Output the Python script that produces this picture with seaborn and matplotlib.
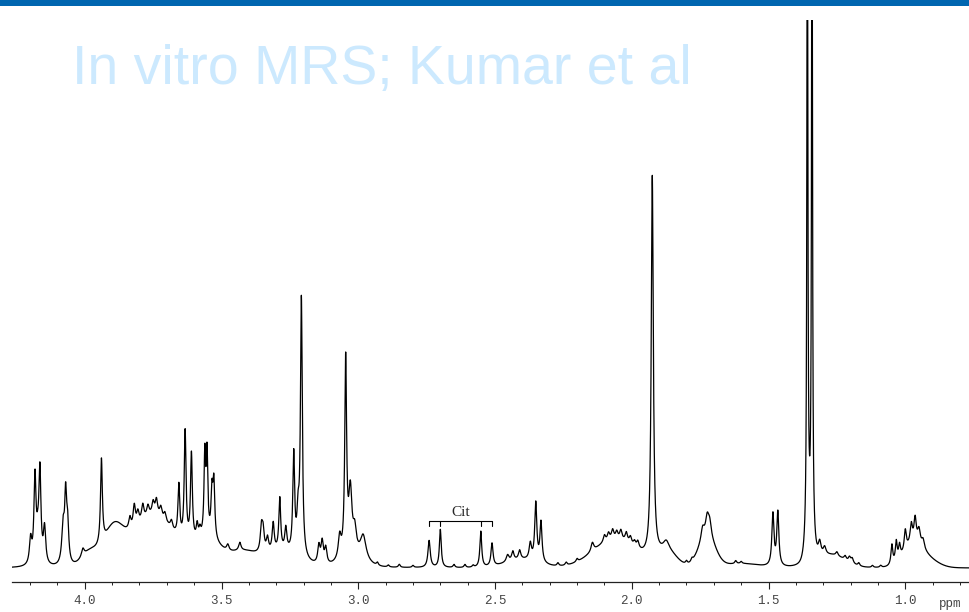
import numpy as np
import pandas as pd
import matplotlib
matplotlib.use("Agg")
import matplotlib.pyplot as plt
from matplotlib.patches import Rectangle
import seaborn as sns

# ---- spectrum description -------------------------------------------------
# resolved resonances: chemical shift (ppm), height (a.u.), FWHM (ppm)
peak_ppm = [4.198, 4.182, 4.172, 4.164, 4.147, 4.079, 4.070, 4.063, 4.007,
            3.939, 3.835, 3.819, 3.806, 3.788, 3.769, 3.750, 3.738, 3.722,
            3.707, 3.683, 3.656, 3.633, 3.610, 3.589, 3.579, 3.561, 3.553,
            3.535, 3.528, 3.477, 3.433, 3.354, 3.348, 3.332, 3.311, 3.287,
            3.265, 3.236, 3.220, 3.208, 3.144, 3.132, 3.119, 3.068, 3.046,
            3.029, 3.013, 2.982, 2.930, 2.890, 2.850, 2.800, 2.741, 2.700,
            2.650, 2.610, 2.580, 2.552, 2.511, 2.454, 2.435, 2.410, 2.371,
            2.351, 2.332, 2.270, 2.240, 2.200, 2.144, 2.100, 2.085, 2.070,
            2.055, 2.040, 2.020, 2.005, 1.990, 1.978, 1.925, 1.874, 1.800,
            1.780, 1.741, 1.724, 1.715, 1.620, 1.600, 1.484, 1.466, 1.358,
            1.341, 1.313, 1.295, 1.250, 1.220, 1.204, 1.194, 1.170, 1.120,
            1.090, 1.049, 1.033, 1.021, 1.000, 0.978, 0.964, 0.950, 0.935]
peak_height = [25, 85, 20, 90, 36, 38, 60, 40, 8,
               85, 12, 22, 12, 15, 10, 12, 15, 10,
               8, 8, 52, 110, 88, 14, 8, 80, 80,
               44, 55, 6, 8, 24, 20, 14, 28, 52,
               22, 98, 36, 257, 18, 22, 16, 22, 195,
               62, 22, 24, 3, 2, 3, 2, 27, 38,
               3, 3, 2, 36, 23, 7, 9, 9, 16,
               58, 40, 3, 3, 3, 9, 7, 7, 9,
               7, 9, 9, 7, 5, 7, 381, 9, 3,
               3, 12, 18, 14, 3, 2, 52, 54, 743,
               743, 14, 8, 4, 4, 5, 5, 3, 2,
               2, 20, 20, 13, 20, 19, 24, 15, 9]
peak_width = [0.010, 0.009, 0.012, 0.009, 0.010, 0.012, 0.008, 0.010, 0.012,
              0.008, 0.010, 0.010, 0.010, 0.010, 0.010, 0.010, 0.010, 0.010,
              0.010, 0.010, 0.008, 0.008, 0.008, 0.008, 0.008, 0.007, 0.007,
              0.008, 0.008, 0.010, 0.010, 0.010, 0.010, 0.010, 0.009, 0.008,
              0.009, 0.008, 0.010, 0.008, 0.010, 0.010, 0.010, 0.012, 0.008,
              0.014, 0.014, 0.025, 0.008, 0.008, 0.008, 0.008, 0.010, 0.008,
              0.008, 0.008, 0.008, 0.008, 0.009, 0.012, 0.010, 0.010, 0.010,
              0.009, 0.009, 0.008, 0.008, 0.008, 0.012, 0.010, 0.010, 0.010,
              0.010, 0.010, 0.010, 0.010, 0.010, 0.010, 0.009, 0.025, 0.008,
              0.008, 0.014, 0.014, 0.014, 0.008, 0.008, 0.009, 0.009, 0.004,
              0.004, 0.012, 0.012, 0.010, 0.010, 0.010, 0.010, 0.008, 0.008,
              0.008, 0.008, 0.008, 0.008, 0.009, 0.010, 0.010, 0.012, 0.012]

# broad macromolecule / overlapping-multiplet background: centre, height, sd
hump_ppm = [3.98, 3.895, 3.75, 3.55, 3.42, 3.28, 3.02, 2.40, 2.06, 1.87,
            1.725, 1.60, 1.35, 1.27, 0.975, 0.92]
hump_height = [15, 34, 52, 25, 15, 15, 10, 8, 28, 14, 30, 4, 30, 12, 20, 8]
hump_sd = [0.03, 0.035, 0.08, 0.05, 0.05, 0.06, 0.04, 0.06, 0.08, 0.035,
           0.03, 0.06, 0.012, 0.05, 0.035, 0.04]
baseline_level = 14

# citrate AB multiplet lines marked on the spectrum
cit_ppm = [2.741, 2.700, 2.552, 2.511]

x_ticks = [4.0, 3.5, 3.0, 2.5, 2.0, 1.5, 1.0]
x_limits = (4.266, 0.767)
y_top = 562

# ---- build the trace --------------------------------------------------------
ppm = np.linspace(x_limits[0], x_limits[1], 40000)
signal = np.full_like(ppm, baseline_level, dtype=float)
for c, h, w in zip(peak_ppm, peak_height, peak_width):
    g = w / 2.0
    signal += h / (1.0 + ((ppm - c) / g) ** 2)
for c, h, s in zip(hump_ppm, hump_height, hump_sd):
    signal += h * np.exp(-0.5 * ((ppm - c) / s) ** 2)

df = pd.DataFrame({"ppm": ppm, "intensity": signal})

# ---- figure -----------------------------------------------------------------
sns.set_style("white")
plt.rcParams["font.family"] = ["Liberation Sans", "DejaVu Sans"]

W, H = 969, 612
fig = plt.figure(figsize=(W / 100, H / 100), dpi=100)
ax = fig.add_axes([12 / W, 1 - 582 / H, 1 - 12 / W, (582 - 20) / H])

sns.lineplot(data=df, x="ppm", y="intensity", ax=ax, color="black",
             linewidth=0.9, estimator=None, sort=False)

ax.set_xlim(*x_limits)
ax.set_ylim(0, y_top)
for side in ("top", "left", "right"):
    ax.spines[side].set_visible(False)
ax.spines["bottom"].set_color("#222222")
ax.spines["bottom"].set_linewidth(0.9)
ax.set_yticks([])
ax.set_xticks(x_ticks)
ax.set_xticklabels([f"{t:.1f}" for t in x_ticks],
                   family="Liberation Mono", fontsize=9, color="#444444")
ax.set_xticks(np.arange(0.8, 4.3, 0.1), minor=True)
ax.tick_params(axis="x", which="major", direction="out", length=5,
               width=0.8, color="#222222", pad=4, bottom=True)
ax.tick_params(axis="x", which="minor", direction="out", length=2.2,
               width=0.7, color="#222222", bottom=True)
ax.set_xlabel("")
ax.set_ylabel("")
ax.patch.set_alpha(0)

# citrate bracket
y_bar, y_leg = 61, 56
ax.plot([cit_ppm[0], cit_ppm[-1]], [y_bar, y_bar], color="black", lw=0.8)
for c in cit_ppm:
    ax.plot([c, c], [y_bar, y_leg], color="black", lw=0.8)
ax.text(np.mean([cit_ppm[0], cit_ppm[-1]]), y_bar + 2, "Cit",
        ha="center", va="bottom", family="Liberation Serif", fontsize=11)

fig.text(950 / W, 1 - 604 / H, "ppm", ha="center", va="center",
         family="Liberation Mono", fontsize=9, color="#444444")

# header band and title
fig.patches.append(Rectangle((0, 1 - 6 / H), 1, 6 / H, transform=fig.transFigure,
                             facecolor="#0066b0", edgecolor="none"))
fig.text(72 / W, 1 - 84 / H, "In vitro MRS; Kumar et al", ha="left",
         va="baseline", fontsize=40, color="#cce9fe")

fig.savefig("out.png", dpi=100, facecolor="white")
